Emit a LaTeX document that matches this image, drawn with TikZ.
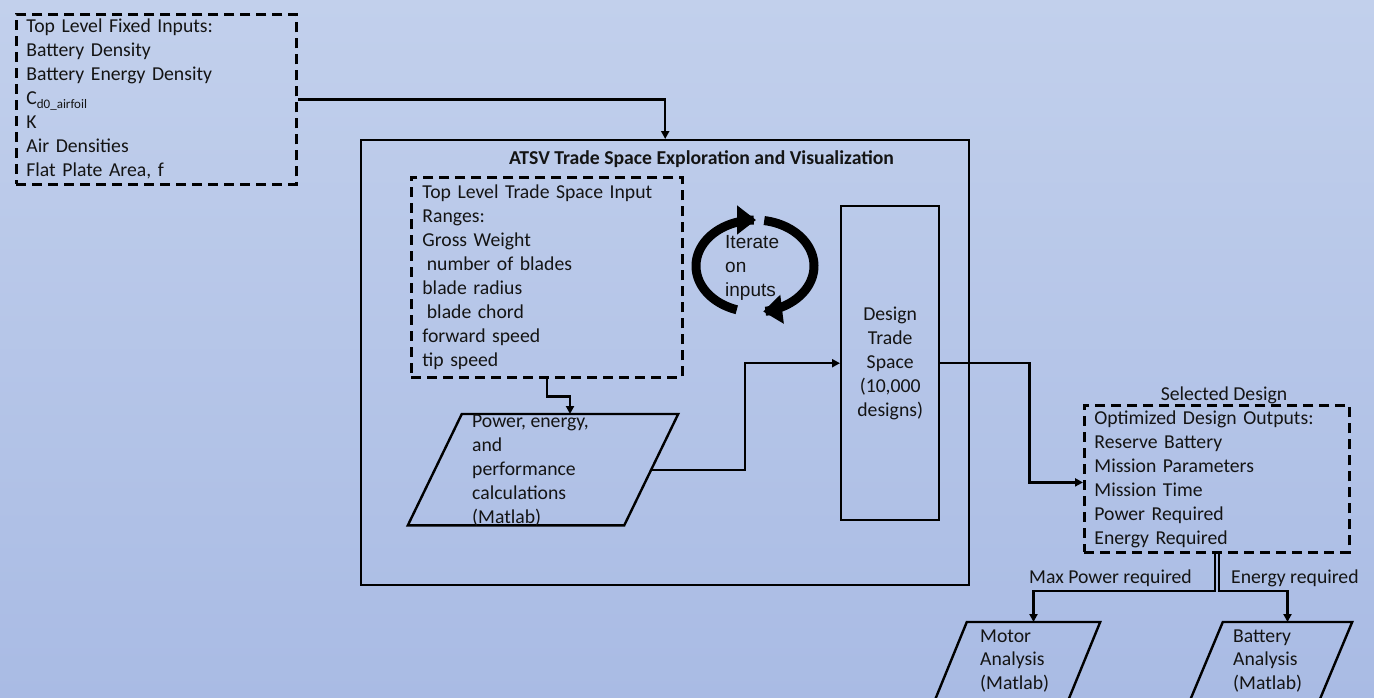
\documentclass[tikz,border=0pt]{standalone}
\usepackage{fontspec}
\setmainfont{Carlito}
\newfontfamily\arialfont{Liberation Sans}
\usetikzlibrary{arrows.meta,calc}
\definecolor{bgtop}{RGB}{194,208,236}
\definecolor{bgbot}{RGB}{169,187,228}
\definecolor{ink}{RGB}{20,20,20}
\begin{document}
\begin{tikzpicture}[x=1pt,y=-1pt,
  every node/.style={text=ink},
  txt/.style={font=\fontsize{19.7}{24}\selectfont},
  dbox/.style={draw=black, line width=2.8pt, dash pattern=on 10pt off 6pt, txt, align=left, inner xsep=10pt, inner ysep=0pt, anchor=north west},
  sbox/.style={draw=black, line width=2.4pt, inner sep=0pt, anchor=north west},
  conn/.style={draw=black, line width=2.3pt, -{Triangle[length=8pt,width=8pt]}},
  wire/.style={draw=black, line width=2.4pt, line join=miter},
  pshape/.style={inner sep=0pt, anchor=north},
  plain/.style={txt, inner sep=0pt, align=left},
  cyc/.style={draw=black, line width=9pt, -{Triangle[length=19pt,width=28pt]}},
]
\clip (0,0) rectangle (1374,697);
\shade[top color=bgtop, bottom color=bgbot] (0,0) rectangle (1374,697);

% fixed inputs
\node[dbox, text width=260pt, minimum height=170pt] (fixed) at (15,13)
  {Top Level Fixed Inputs:\\Battery Density\\Battery Energy Density\\C\raisebox{-4pt}{\fontsize{13}{13}\selectfont d0\_airfoil}\\K\\Air Densities\\Flat Plate Area, f};

% ATSV container
\node[sbox, minimum width=608pt, minimum height=445pt] (atsv) at (360,139) {};
\node[font=\fontsize{19.7}{24}\selectfont\bfseries, inner sep=0pt] (title) at (701.5,159) {ATSV Trade Space Exploration and Visualization};

% trade space inputs
\node[dbox, inner xsep=11pt, text width=249pt, minimum height=200pt] (tin) at (410,176)
  {Top Level Trade Space Input\\Ranges:\\Gross Weight\\\hspace*{4.5pt}number of blades\\blade radius\\\hspace*{4.5pt}blade chord\\forward speed\\tip speed};

% calculations parallelogram
\node[pshape, minimum width=216pt, minimum height=111pt] (calc) at (570,414) {};
\draw[wire] (calc.north west) -- (calc.north east) -- ($(calc.south east)+(-54,0)$) -- ($(calc.south west)+(-54,0)$) -- cycle;
\node[plain, anchor=west] (calct) at (472,471) {Power, energy,\\and\\performance\\calculations\\(Matlab)};

% iterate
\draw[cyc] plot[domain=108:271, samples=60, smooth] ({755+59*cos(\x)},{266+46*sin(\x)});
\draw[cyc] plot[domain=279:442, samples=60, smooth] ({755+59*cos(\x)},{266+46*sin(\x)});
\node[font=\arialfont\fontsize{19}{24}\selectfont, inner sep=0pt, align=left, anchor=west] (iter) at (725,268) {Iterate\\on\\inputs};

% design trade space
\node[sbox, txt, align=center, minimum width=98pt, minimum height=314pt] (design) at (840,205) {Design\\Trade\\Space\\(10,000\\designs)};

% outputs
\node[dbox, text width=245pt, minimum height=147pt] (out) at (1083,404)
  {Optimized Design Outputs:\\Reserve Battery\\Mission Parameters\\Mission Time\\Power Required\\Energy Required};
\node[txt, inner sep=0pt, anchor=base] (sel) at (1224,400) {Selected Design};

% motor and battery
\node[pshape, minimum width=133pt, minimum height=100pt] (motor) at (1033.5,622) {};
\draw[wire] (motor.north west) -- (motor.north east) -- ($(motor.south east)+(-41,0)$) -- ($(motor.south west)+(-41,0)$) -- cycle;
\node[plain, font=\fontsize{19.7}{23.5}\selectfont, anchor=west] (motort) at (980,661) {Motor\\Analysis\\(Matlab)};

\node[pshape, minimum width=129pt, minimum height=100pt] (batt) at (1287.5,622) {};
\draw[wire] (batt.north west) -- (batt.north east) -- ($(batt.south east)+(-42,0)$) -- ($(batt.south west)+(-42,0)$) -- cycle;
\node[plain, font=\fontsize{19.7}{23.5}\selectfont, anchor=west] (battt) at (1233,661) {Battery\\Analysis\\(Matlab)};

\node[txt, inner sep=0pt, anchor=base west] (maxp) at (1029,583) {Max Power required};
\node[txt, inner sep=0pt, anchor=base west] (ereq) at (1231,583) {Energy required};

% connectors
\draw[conn] (fixed.east) -| (atsv.north);
\draw[conn] (tin.south) |- ($(tin.south)!0.5!(calc.north)$) -| (calc.north);
\draw[conn] ($(calc.east)+(-27,0)$) -| ([xshift=-95pt]design.west) -- (design.west);
\draw[conn] (design.east) -- ++(89,0) |- ([yshift=-3.5pt]out.west);
\draw[conn] ([xshift=-2pt]out.south) -- ++(0,37) -| (motor.north);
\draw[conn] ([xshift=2pt]out.south) -- ++(0,37) -| (batt.north);
\end{tikzpicture}
\end{document}
